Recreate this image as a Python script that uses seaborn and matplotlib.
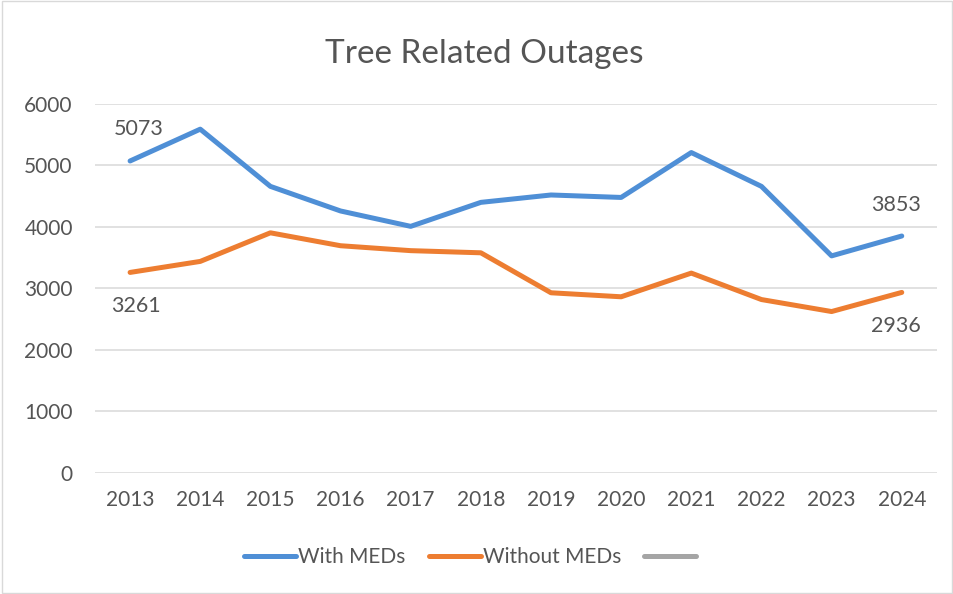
import matplotlib
matplotlib.use("Agg")
import matplotlib.pyplot as plt
import seaborn as sns
import pandas as pd
from matplotlib.lines import Line2D

years = ["2013", "2014", "2015", "2016", "2017", "2018", "2019", "2020", "2021", "2022", "2023", "2024"]
with_meds = [5073, 5590, 4660, 4260, 4010, 4400, 4520, 4480, 5210, 4660, 3530, 3853]
without_meds = [3261, 3440, 3905, 3695, 3615, 3580, 2930, 2865, 3250, 2820, 2625, 2936]
series_names = ["With MEDs", "Without MEDs"]
yticks = [0, 1000, 2000, 3000, 4000, 5000, 6000]
title = "Tree Related Outages"

sns.set_theme(style="white")
plt.rcParams["font.family"] = ["Lato", "DejaVu Sans"]

df = pd.DataFrame({
    "Year": years * 2,
    "Value": with_meds + without_meds,
    "Series": [series_names[0]] * len(years) + [series_names[1]] * len(years),
})

colors = {"With MEDs": "#4F8FD6", "Without MEDs": "#ED7D31"}
gray = "#A5A5A5"
txt = "#555555"

fig = plt.figure(figsize=(9.54, 5.94), dpi=100)
ax = fig.add_axes([0.0996, 0.2037, 0.8824, 0.6213])
sns.lineplot(data=df, x="Year", y="Value", hue="Series", palette=colors,
             linewidth=3.6, ax=ax, legend=False, sort=False)

ax.set_xlim(-0.5, len(years) - 0.5)
ax.set_ylim(0, 6000)
ax.set_yticks(yticks)
ax.set_yticklabels([str(v) for v in yticks])
ax.grid(axis="y", color="#D9D9D9", linewidth=1.1)
ax.grid(axis="x", visible=False)
for s in ax.spines.values():
    s.set_visible(False)
ax.set_xlabel("")
ax.set_ylabel("")
ax.tick_params(axis="both", length=0, labelsize=15, colors=txt)
ax.tick_params(axis="x", pad=12)
ax.tick_params(axis="y", pad=16)
ax.set_axisbelow(True)

# data labels
fs = 15.5
ax.annotate(str(with_meds[0]), (0, with_meds[0]), xytext=(6, 23), textcoords="offset points",
            ha="center", va="center", fontsize=fs, color=txt)
ax.annotate(str(without_meds[0]), (0, without_meds[0]), xytext=(4, -24), textcoords="offset points",
            ha="center", va="center", fontsize=fs, color=txt)
ax.annotate(str(with_meds[-1]), (len(years) - 1, with_meds[-1]), xytext=(-4, 22), textcoords="offset points",
            ha="center", va="center", fontsize=fs, color=txt)
ax.annotate(str(without_meds[-1]), (len(years) - 1, without_meds[-1]), xytext=(-4, -24), textcoords="offset points",
            ha="center", va="center", fontsize=fs, color=txt)

fig.text(0.508, 0.909, title, ha="center", va="center", fontsize=24, color=txt)

handles = [Line2D([], [], color=colors[series_names[0]], linewidth=3.6),
           Line2D([], [], color=colors[series_names[1]], linewidth=3.6),
           Line2D([], [], color=gray, linewidth=3.6)]
fig.legend(handles, series_names + [""], loc="center", bbox_to_anchor=(0.494, 0.062), ncol=3,
           frameon=False, fontsize=15, labelcolor=txt, handlelength=2.5, handletextpad=0.1,
           columnspacing=1.1)

fig.patches.append(plt.Rectangle((0.002, 0.002), 0.996, 0.996, transform=fig.transFigure,
                                 fill=False, edgecolor="#D9D9D9", linewidth=1))
fig.savefig("out.png", dpi=100)
